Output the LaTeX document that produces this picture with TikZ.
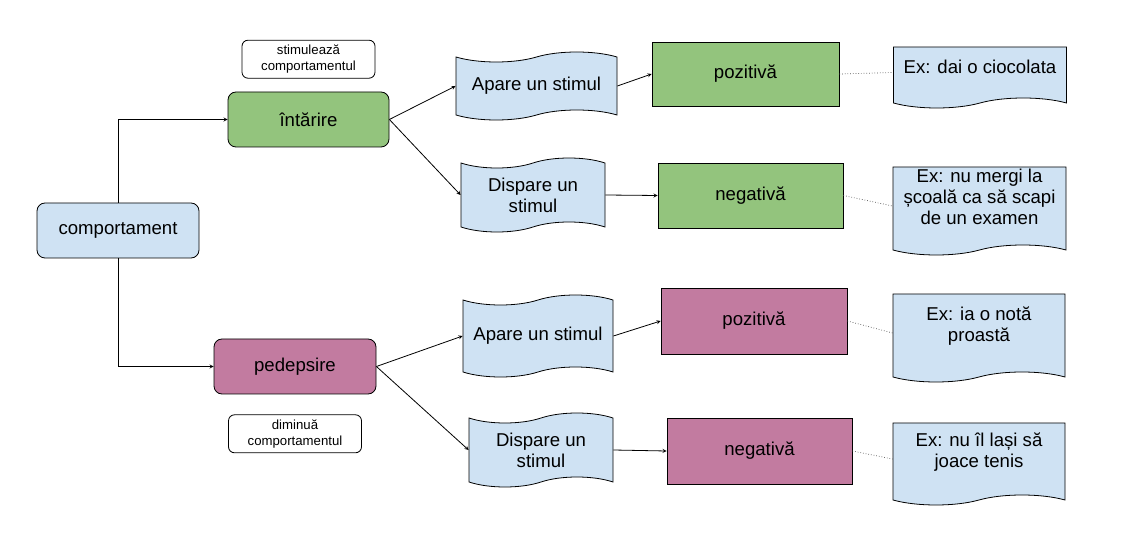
\documentclass[tikz,border=0pt]{standalone}
\usepackage{fontspec}
\setmainfont{Liberation Sans}
\usetikzlibrary{arrows,positioning,shapes.symbols}
\definecolor{lightblue}{HTML}{CFE2F3}
\definecolor{leafgreen}{HTML}{93C47D}
\definecolor{plum}{HTML}{C27BA0}

\begin{document}
\begin{tikzpicture}[
  x=1pt, y=-1pt,
  every node/.style={draw, font=\fontsize{18.6}{21}\selectfont, inner sep=1pt, align=center, line width=0.8pt},
  rootbox/.style={rounded corners=8pt, fill=lightblue, minimum width=162pt, minimum height=55pt},
  kindbox/.style={rounded corners=8pt, minimum width=161pt, minimum height=55pt},
  notebox/.style={rounded corners=6pt, fill=white, font=\fontsize{13.2}{16}\selectfont, minimum width=133pt, minimum height=38pt},
  stimbox/.style={tape, fill=lightblue, tape bend height=10pt},
  signbox/.style={minimum width=186pt, minimum height=65pt},
  exbox/.style={tape, tape bend top=none, fill=lightblue, minimum width=173pt, tape bend height=10pt, text depth=18pt},
  link/.style={draw, ->, >=stealth, line width=0.8pt},
  hint/.style={draw, dotted, line width=0.7pt, black!70}
]
\useasboundingbox (0,0) rectangle (1130,534);

% left column
\node[rootbox] (comp) at (118,230.5) {comportament};
\node[kindbox, fill=leafgreen] (intar) at (308.5,119.5) {întărire};
\node[kindbox, fill=plum, minimum width=162pt] (pedep) at (295,366.5) {pedepsire};
\node[notebox, above=13pt of intar] (stim) {stimulează\\comportamentul};
\node[notebox, below=20pt of pedep] (dimin) {diminuă\\comportamentul};

% stimuli
\node[stimbox, minimum width=161pt, minimum height=68pt] (apare1) at (536.5,86) {Apare un stimul};
\node[stimbox, minimum width=144pt, minimum height=74pt] (disp1) at (533,195) {Dispare un\\stimul};
\node[stimbox, minimum width=150pt, minimum height=82pt] (apare2) at (538,336) {Apare un stimul};
\node[stimbox, minimum width=144pt, minimum height=74pt] (disp2) at (541,450) {Dispare un\\stimul};

% signs
\node[signbox, fill=leafgreen, minimum width=187pt, minimum height=64pt] (poz1) at (745.5,74) {pozitivă};
\node[signbox, fill=leafgreen, minimum width=185pt] (neg1) at (750.5,195.5) {negativă};
\node[signbox, fill=plum, minimum height=66pt] (poz2) at (754,321) {pozitivă};
\node[signbox, fill=plum, minimum width=185pt, minimum height=66pt] (neg2) at (759.5,451) {negativă};

% examples
\node[exbox, minimum height=61pt, text depth=12pt] (ex1) at (980,72.5) {Ex: dai o ciocolata};
\node[exbox, minimum height=88pt] (ex2) at (979.5,206) {Ex: nu mergi la\\școală ca să scapi\\de un examen};
\node[exbox, minimum width=172pt, minimum height=88pt] (ex3) at (979,333) {Ex: ia o notă\\proastă};
\node[exbox, minimum width=172pt, minimum height=82pt] (ex4) at (979,459) {Ex: nu îl lași să\\joace tenis};

\draw[link] (comp.north) |- (intar.west);
\draw[link] (comp.south) |- (pedep.west);
\draw[link] (intar.east) -- (apare1.west);
\draw[link] (intar.east) -- (disp1.west);
\draw[link] (pedep.east) -- (apare2.west);
\draw[link] (pedep.east) -- (disp2.west);
\draw[link] (apare1.east) -- (poz1.west);
\draw[link] (disp1.east) -- (neg1.west);
\draw[link] (apare2.east) -- (poz2.west);
\draw[link] (disp2.east) -- (neg2.west);

\draw[hint] (poz1.east) -- (ex1.west);
\draw[hint] (neg1.east) -- (ex2.west);
\draw[hint] (poz2.east) -- (ex3.west);
\draw[hint] (neg2.east) -- (ex4.west);
\end{tikzpicture}
\end{document}
